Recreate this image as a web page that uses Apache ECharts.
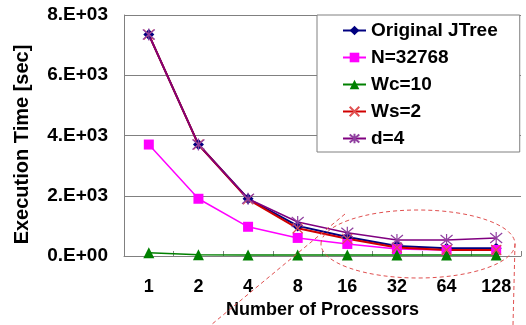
<!DOCTYPE html>
<html>
<head>
<meta charset="utf-8">
<script src="https://cdn.jsdelivr.net/npm/echarts@6/dist/echarts.min.js"></script>
<style>
  html, body { margin: 0; padding: 0; background: #fff; }
  #chart { width: 526px; height: 325px; }
</style>
</head>
<body>
<div id="chart"></div>
<script>
// processor counts on the x axis
var processors = ['1', '2', '4', '8', '16', '32', '64', '128'];

// execution time [sec] per series
var originalJTree = [7350, 3700, 1900, 1000, 630, 330, 260, 260];
var n32768 = [3700, 1900, 970, 600, 400, 230, 200, 200];
var wc10 = [110, 40, 30, 30, 30, 30, 30, 30];
var ws2 = [7350, 3700, 1880, 920, 570, 280, 200, 200];
var d4 = [7350, 3700, 1900, 1130, 770, 530, 530, 600];

var FONT = 'Liberation Sans';
var crossPath = 'path://M0,0L10,10M10,0L0,10';
var starPath = 'path://M0,0L10,10M10,0L0,10M5,-1L5,11';

function expLabel(v) {
  if (v === 0) return '0.E+00';
  return (v / 1000) + '.E+03';
}

var chart = echarts.init(document.getElementById('chart'));

chart.setOption({
  backgroundColor: '#fff',
  animation: false,
  grid: { left: 124, right: 5, top: 15, bottom: 69 },
  legend: {
    orient: 'vertical',
    left: 317,
    top: 15,
    backgroundColor: '#fff',
    borderColor: '#808080',
    borderWidth: 1,
    borderRadius: 0,
    padding: [6, 22, 4, 25],
    itemWidth: 23,
    itemHeight: 12,
    itemGap: 8,
    textStyle: { fontFamily: FONT, fontWeight: 'bold', fontSize: 19, color: '#000' },
    data: ['Original JTree', 'N=32768', 'Wc=10', 'Ws=2', 'd=4']
  },
  xAxis: {
    type: 'category',
    data: processors,
    boundaryGap: true,
    name: 'Number of Processors',
    nameLocation: 'middle',
    nameGap: 42,
    nameTextStyle: { fontFamily: FONT, fontWeight: 'bold', fontSize: 18, color: '#000' },
    axisLine: { lineStyle: { color: '#808080', width: 1 } },
    axisTick: { show: true, inside: true, length: 5, lineStyle: { color: '#808080' } },
    axisLabel: { fontFamily: FONT, fontWeight: 'bold', fontSize: 18, color: '#000', margin: 22 }
  },
  yAxis: {
    type: 'value',
    min: 0,
    max: 8000,
    interval: 2000,
    name: 'Execution Time [sec]',
    nameLocation: 'middle',
    nameGap: 92,
    nameTextStyle: { fontFamily: FONT, fontWeight: 'bold', fontSize: 20, color: '#000', padding: [0, 18, 0, 0] },
    axisLine: { show: true, lineStyle: { color: '#808080', width: 1 } },
    axisTick: { show: false },
    axisLabel: { fontFamily: FONT, fontWeight: 'bold', fontSize: 19, color: '#000', margin: 16, formatter: expLabel },
    splitLine: { lineStyle: { color: '#808080', width: 1 } }
  },
  series: [
    {
      name: 'Original JTree', type: 'line', data: originalJTree,
      symbol: 'diamond', symbolSize: 11,
      lineStyle: { color: '#000080', width: 2 },
      itemStyle: { color: '#000080' }
    },
    {
      name: 'N=32768', type: 'line', data: n32768,
      symbol: 'rect', symbolSize: 10,
      lineStyle: { color: '#ff00ff', width: 1.5 },
      itemStyle: { color: '#ff00ff' }
    },
    {
      name: 'Wc=10', type: 'line', data: wc10,
      symbol: 'triangle', symbolSize: 11,
      lineStyle: { color: '#008000', width: 1.5 },
      itemStyle: { color: '#008000' }
    },
    {
      name: 'Ws=2', type: 'line', data: ws2,
      symbol: crossPath, symbolSize: 10,
      lineStyle: { color: '#d00000', width: 2 },
      itemStyle: { color: 'rgba(0,0,0,0)', borderColor: '#e05050', borderWidth: 1.2 }
    },
    {
      name: 'd=4', type: 'line', data: d4,
      symbol: starPath, symbolSize: 12,
      lineStyle: { color: '#800080', width: 1.5 },
      itemStyle: { color: 'rgba(0,0,0,0)', borderColor: '#9040a0', borderWidth: 1.2 }
    }
  ],
  graphic: [
    {
      type: 'ellipse', z: 100, silent: true,
      shape: { cx: 418, cy: 244, rx: 97, ry: 34 },
      style: { fill: 'none', stroke: '#e05050', lineWidth: 1, lineDash: [4, 3] }
    },
    {
      type: 'line', z: 100, silent: true,
      shape: { x1: 345, y1: 214, x2: 211, y2: 325 },
      style: { stroke: '#e05050', lineWidth: 1, lineDash: [4, 3] }
    },
    {
      type: 'line', z: 100, silent: true,
      shape: { x1: 515, y1: 244, x2: 513, y2: 325 },
      style: { stroke: '#e05050', lineWidth: 1, lineDash: [4, 3] }
    }
  ]
});
</script>
</body>
</html>
